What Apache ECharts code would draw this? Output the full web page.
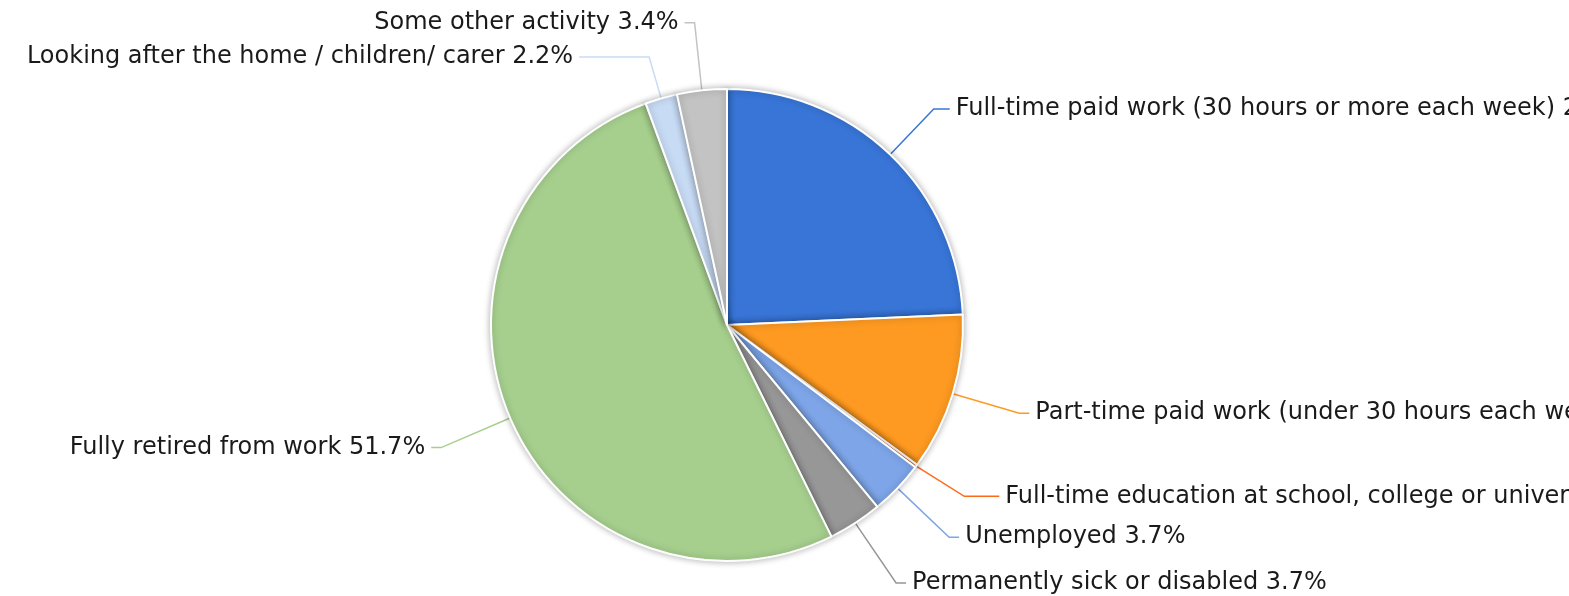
<!DOCTYPE html>
<html>
<head>
    <meta charset="utf-8">
    <title>Activity</title>
    <script src="https://cdn.jsdelivr.net/npm/echarts@6/dist/echarts.min.js"></script>
    <style>
        html, body { margin: 0; padding: 0; background: #fff; }
        #chart { width: 1569px; height: 596px; }
    </style>
</head>
<body>
    <div id="chart"></div>
    <script>
        var categories = [
            'Full-time paid work (30 hours or more each week)',
            'Part-time paid work (under 30 hours each week)',
            'Full-time education at school, college or university',
            'Unemployed',
            'Permanently sick or disabled',
            'Fully retired from work',
            'Looking after the home / children/ carer',
            'Some other activity'
        ];
        var shares = [24.3, 10.8, 0.2, 3.7, 3.7, 51.7, 2.2, 3.4];
        var colors = ['#3875d7', '#fe9a21', '#ff6a1a', '#7da5e8', '#979797', '#a6cf8e', '#c8dbf5', '#c3c3c3'];
        // leader line lengths [radial, horizontal] per slice
        var leaders = [[63, 16], [75, 10], [55, 35], [75, 10], [75, 10], [75, 10], [43, 70], [68, 10]];

        var chart = echarts.init(document.getElementById('chart'));
        chart.setOption({
            animation: false,
            series: [{
                type: 'pie',
                center: [727, 325],
                radius: 236,
                startAngle: 90,
                clockwise: true,
                data: categories.map(function(name, i) {
                    return {
                        name: name,
                        value: shares[i],
                        itemStyle: { color: colors[i] },
                        labelLine: { length: leaders[i][0], length2: leaders[i][1] }
                    };
                }),
                itemStyle: {
                    borderColor: '#fff',
                    borderWidth: 2,
                    shadowBlur: 7,
                    shadowColor: 'rgba(0,0,0,0.3)'
                },
                label: {
                    formatter: '{b} {c}%',
                    fontFamily: 'DejaVu Sans',
                    fontSize: 24,
                    color: '#1a1a1a',
                    overflow: 'none',
                    distanceToLabelLine: 6
                },
                labelLine: {
                    lineStyle: { width: 1.5 }
                }
            }]
        });
    </script>
</body>
</html>
